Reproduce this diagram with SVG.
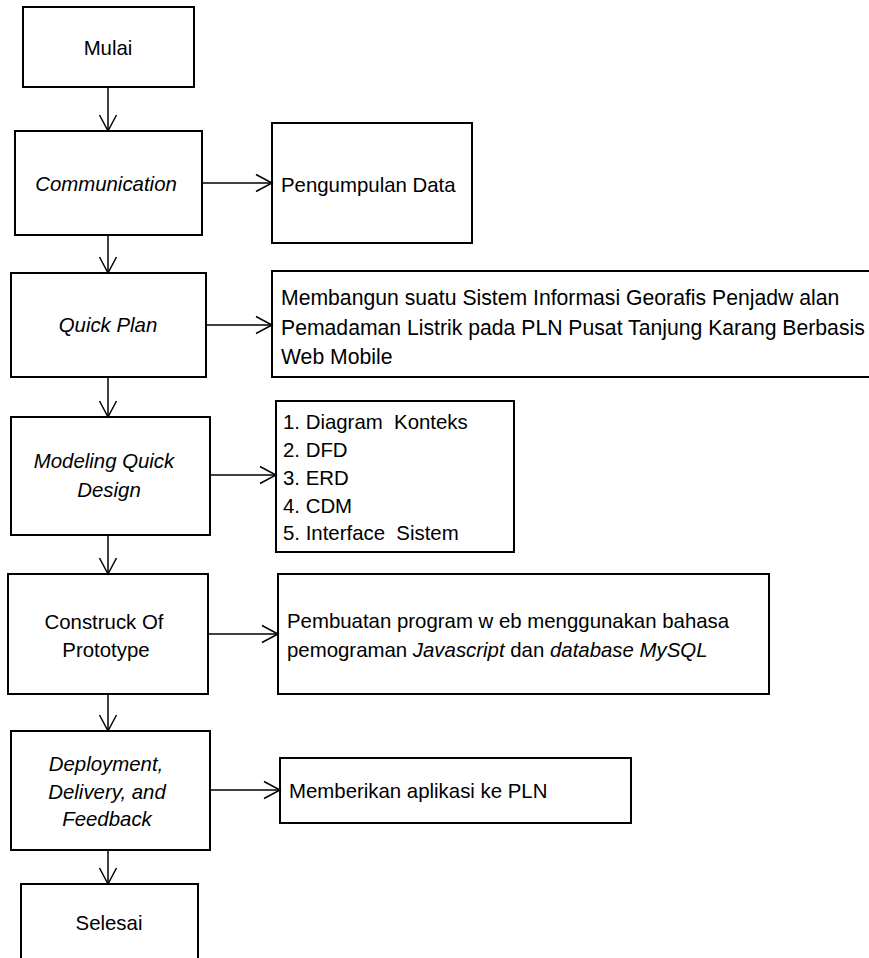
<svg xmlns="http://www.w3.org/2000/svg" width="869" height="958" viewBox="0 0 869 958">
  <style>
    .box { fill: #ffffff; stroke: #000000; stroke-width: 2; }
    .lbl { font-family: "Liberation Sans", Arial, sans-serif; font-size: 20.4px; fill: #000000; }
    .big { font-size: 21.2px; }
    .mid { text-anchor: middle; }
    .it { font-style: italic; }
    .pre { white-space: pre; }
    .edge { fill: none; stroke: #000000; stroke-width: 1.5; }
  </style>
  <defs>
    <marker id="open-arrow" viewBox="0 0 20 20" refX="17" refY="10" markerWidth="20" markerHeight="20" markerUnits="userSpaceOnUse" orient="auto">
      <path d="M1,1.5 L17,10 L1,18.5" fill="none" stroke="#000000" stroke-width="1.5"/>
    </marker>
  </defs>
  <rect width="869" height="958" fill="#ffffff"/>

  <!-- main flow -->
  <g id="mulai">
    <rect class="box" x="23" y="7" width="171" height="80"/>
    <text class="lbl mid" x="108" y="55">Mulai</text>
  </g>
  <g id="communication">
    <rect class="box" x="15" y="131" width="187" height="104"/>
    <text class="lbl mid it" x="106" y="191">Communication</text>
  </g>
  <g id="quick-plan">
    <rect class="box" x="11" y="273" width="195" height="104"/>
    <text class="lbl mid it" x="108" y="332">Quick Plan</text>
  </g>
  <g id="modeling">
    <rect class="box" x="11" y="417" width="199" height="118"/>
    <text class="lbl mid it" x="104" y="468">Modeling Quick</text>
    <text class="lbl mid it" x="109" y="497">Design</text>
  </g>
  <g id="construck">
    <rect class="box" x="8" y="574" width="200" height="120"/>
    <text class="lbl mid" x="104" y="629">Construck Of</text>
    <text class="lbl mid" x="106" y="657">Prototype</text>
  </g>
  <g id="deployment">
    <rect class="box" x="11" y="731" width="199" height="119"/>
    <text class="lbl mid it" x="106" y="771">Deployment,</text>
    <text class="lbl mid it" x="107" y="799">Delivery, and</text>
    <text class="lbl mid it" x="107" y="826">Feedback</text>
  </g>
  <g id="selesai">
    <rect class="box" x="21" y="884" width="177" height="90"/>
    <text class="lbl mid" x="109" y="930">Selesai</text>
  </g>

  <!-- detail boxes -->
  <g id="pengumpulan-data">
    <rect class="box" x="272" y="123" width="200" height="120"/>
    <text class="lbl" x="281" y="192">Pengumpulan Data</text>
  </g>
  <g id="tujuan-sistem">
    <rect class="box" x="272" y="271" width="604" height="106"/>
    <text class="lbl big" x="281" y="305">Membangun suatu Sistem Informasi Georafis Penjadw alan</text>
    <text class="lbl big" x="281" y="335">Pemadaman Listrik pada PLN Pusat Tanjung Karang Berbasis</text>
    <text class="lbl big" x="281" y="364">Web Mobile</text>
  </g>
  <g id="rancangan">
    <rect class="box" x="276" y="401" width="238" height="151"/>
    <text class="lbl pre" x="283" y="429">1. Diagram  Konteks</text>
    <text class="lbl" x="283" y="457">2. DFD</text>
    <text class="lbl" x="283" y="485">3. ERD</text>
    <text class="lbl" x="283" y="513">4. CDM</text>
    <text class="lbl pre" x="283" y="540">5. Interface  Sistem</text>
  </g>
  <g id="pembuatan-program">
    <rect class="box" x="278" y="574" width="491" height="120"/>
    <text class="lbl" x="287" y="628">Pembuatan program w eb menggunakan bahasa</text>
    <text class="lbl" x="287" y="657">pemograman <tspan class="it">Javascript</tspan> dan <tspan class="it">database MySQL</tspan></text>
  </g>
  <g id="serah-aplikasi">
    <rect class="box" x="280" y="758" width="351" height="65"/>
    <text class="lbl" x="289" y="798">Memberikan aplikasi ke PLN</text>
  </g>

  <!-- connectors -->
  <g id="connectors">
    <line class="edge" x1="108" y1="87" x2="108" y2="131" marker-end="url(#open-arrow)"/>
    <line class="edge" x1="108" y1="235" x2="108" y2="273" marker-end="url(#open-arrow)"/>
    <line class="edge" x1="108" y1="377" x2="108" y2="417" marker-end="url(#open-arrow)"/>
    <line class="edge" x1="108" y1="535" x2="108" y2="574" marker-end="url(#open-arrow)"/>
    <line class="edge" x1="108" y1="694" x2="108" y2="731" marker-end="url(#open-arrow)"/>
    <line class="edge" x1="108" y1="850" x2="108" y2="884" marker-end="url(#open-arrow)"/>

    <line class="edge" x1="202" y1="183" x2="272" y2="183" marker-end="url(#open-arrow)"/>
    <line class="edge" x1="206" y1="325" x2="272" y2="325" marker-end="url(#open-arrow)"/>
    <line class="edge" x1="210" y1="475" x2="276" y2="475" marker-end="url(#open-arrow)"/>
    <line class="edge" x1="208" y1="634" x2="278" y2="634" marker-end="url(#open-arrow)"/>
    <line class="edge" x1="210" y1="790" x2="280" y2="790" marker-end="url(#open-arrow)"/>
  </g>
</svg>
